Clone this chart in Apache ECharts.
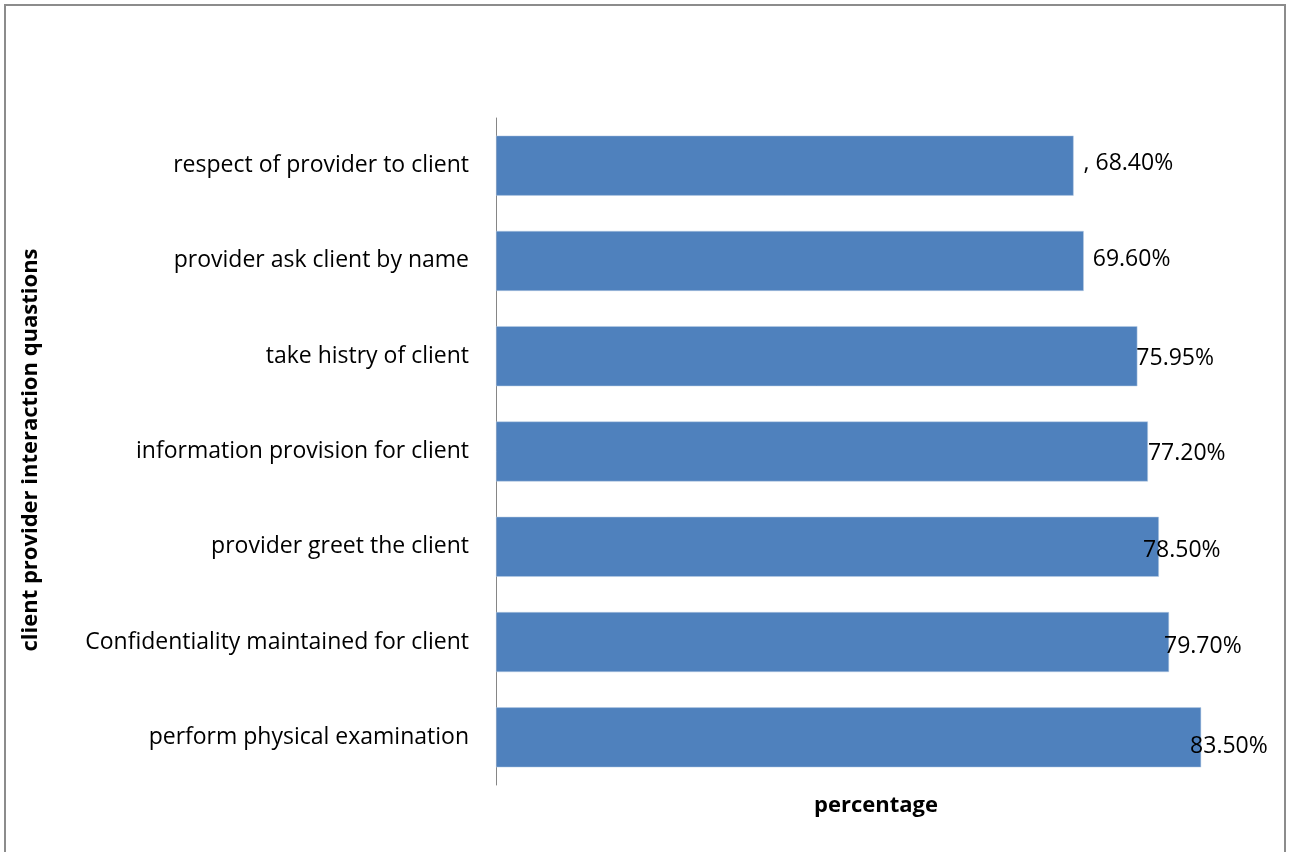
<!DOCTYPE html>
<html>
<head>
<meta charset="utf-8">
<script src="https://cdn.jsdelivr.net/npm/echarts@6/dist/echarts.min.js"></script>
<style>
html,body{margin:0;padding:0;background:#fff;}
#chart{width:1291px;height:852px;}
</style>
</head>
<body>
<div id="chart"></div>
<script>
const categories = [
  "respect of provider to client",
  "provider ask client by name",
  "take histry of client",
  "information provision for client",
  "provider greet the client",
  "Confidentiality maintained for client",
  "perform physical examination"
];
const values = [68.40, 69.60, 75.95, 77.20, 78.50, 79.70, 83.50];
const valueLabels = [", 68.40%", "69.60%", "75.95%", "77.20%", "78.50%", "79.70%", "83.50%"];
const labelNudge = [[10, -2], [9, -1], [-1, 2], [0, 2], [-16, 4], [-5, 4], [-11, 9]];

const FONT = "Open Sans";
const chart = echarts.init(document.getElementById('chart'));
chart.setOption({
  backgroundColor: '#fff',
  animation: false,
  graphic: [{
    type: 'rect',
    shape: {x: 5, y: 5, width: 1280, height: 860},
    style: {fill: 'none', stroke: '#8c8c8c', lineWidth: 2},
    silent: true
  }],
  grid: {left: 496, right: 35, top: 118, bottom: 67},
  xAxis: {
    type: 'value', min: 0, max: 90,
    axisLine: {show: false}, axisTick: {show: false},
    axisLabel: {show: false}, splitLine: {show: false},
    name: 'percentage', nameLocation: 'middle', nameGap: 10,
    nameTextStyle: {fontFamily: FONT, fontSize: 22, fontWeight: 'bold', color: '#000'}
  },
  yAxis: {
    type: 'category', data: categories, inverse: true,
    axisLine: {show: true, lineStyle: {color: '#868686', width: 1}},
    axisTick: {show: false},
    axisLabel: {fontFamily: FONT, fontSize: 23, color: '#000', margin: 27, padding: [4, 0, 0, 0]},
    name: 'client provider interaction quastions', nameLocation: 'middle', nameGap: 454,
    nameRotate: 90,
    nameTextStyle: {fontFamily: FONT, fontSize: 22, fontWeight: 'bold', color: '#000', padding: [0, 0, 0, 3]}
  },
  series: [{
    type: 'bar',
    data: values.map((v, i) => ({
      value: v,
      label: {offset: labelNudge[i]}
    })),
    barCategoryGap: '37%',
    itemStyle: {color: '#4F81BD', borderColor: '#b9cde5', borderWidth: 0.5},
    label: {
      show: true, position: 'right', distance: 0,
      fontFamily: FONT, fontSize: 23, color: '#000',
      formatter: p => valueLabels[p.dataIndex]
    }
  }]
});
</script>
</body>
</html>
